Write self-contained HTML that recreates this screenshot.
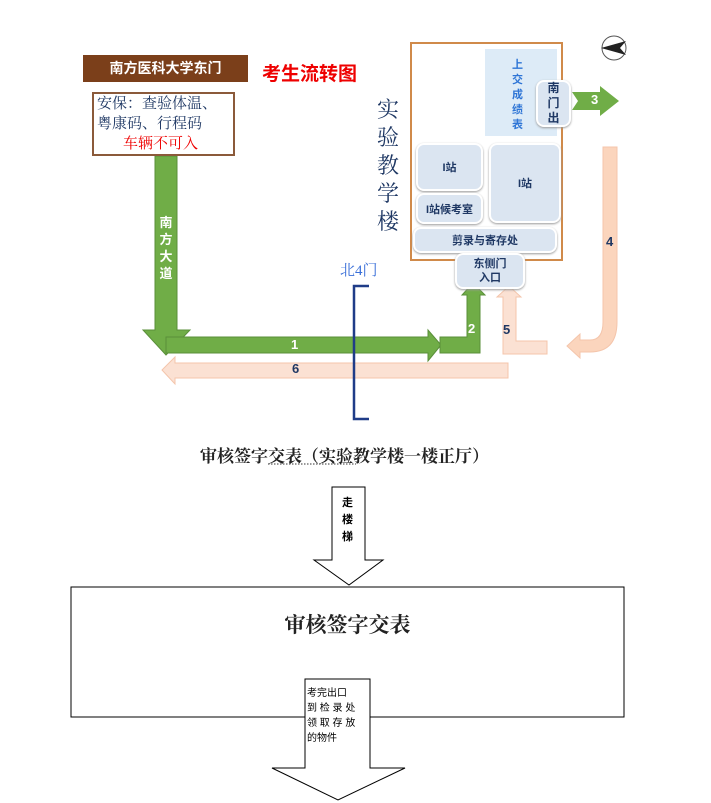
<!DOCTYPE html>
<html><head><meta charset="utf-8"><style>
body{margin:0;width:711px;height:803px;background:#fff;position:relative;overflow:hidden;font-family:"Liberation Sans","Noto Sans CJK SC",sans-serif}
.a{position:absolute}
.rb{background:#dbe5f1;border:2px solid #fff;border-radius:8px;box-shadow:0 1px 2px #999;color:#1f3864;font-weight:bold;font-size:11px;display:flex;align-items:center;justify-content:center;text-align:center;box-sizing:border-box}
</style></head><body>
<svg class="a" style="left:0;top:0" width="711" height="803">
<polygon points="155,156 177,156 177,330 190,330 166,355 143,330 155,330" fill="#70ad47" stroke="#5a8f3a"/>
<polygon points="166,337 428,337 428,330 441,345 428,361 428,353 166,353" fill="#70ad47" stroke="#5a8f3a"/>
<polygon points="440,337 467,337 467,295 462,295 473,283 485,295 480,295 480,353 440,353" fill="#70ad47" stroke="#5a8f3a"/>
<polygon points="572,92 600,92 600,86 619,101 600,116 600,110 572,110 578,101" fill="#70ad47"/>
<polygon points="503,354 503,297 497,297 509,286 521,297 516,297 516,341 547,341 547,354" fill="#fbe1d3" stroke="#f4c5ab"/>
<polygon points="508,363 508,378 175,378 175,384 162,370 175,357 175,363" fill="#fbe1d3" stroke="#f4c5ab"/>
<path d="M603,147 L617,147 L617,322 Q617,352 590,352 L580,352 L580,358 L567,346 L580,334 L580,340 L590,340 Q603,340 603,322 Z" fill="#fbd5bd" stroke="#f4c5ab"/>
<polyline points="369,286 354,286 354,419 369,419" fill="none" stroke="#1f3c88" stroke-width="2.5"/>
<rect x="411" y="43" width="151" height="217" fill="#fff" stroke="#d08a4a" stroke-width="2"/>
<rect x="485" y="49" width="72" height="87" fill="#ddebf7"/>
<circle cx="614" cy="48" r="12" fill="#fff" stroke="#555"/>
<polygon points="601,48 626,41 620,48 626,55" fill="#222"/>
<line x1="268" y1="464" x2="356" y2="464" stroke="#333" stroke-dasharray="1.5,1.5"/>
<polygon points="332,487 365,487 365,560 383,560 349,585 314,560 332,560" fill="#fff" stroke="#000"/>
<rect x="71" y="587" width="553" height="130" fill="#fff" stroke="#000"/>
<polygon points="305,679 370,679 370,768 405,768 338,800 272,768 305,768" fill="#fff" stroke="#000"/>
</svg>
<div class="a" style="left:83px;top:55px;width:165px;height:27px;background:#7b3f1a;color:#fff;font-weight:bold;font-size:14px;line-height:27px;text-align:center">南方医科大学东门</div>
<div class="a" style="left:262px;top:59px;color:#e00;font-weight:bold;font-size:19px">考生流转图</div>
<div class="a" style="left:92px;top:92px;width:143px;height:64px;border:2px solid #8b5a3a;box-sizing:border-box;font-family:'Liberation Serif','Noto Serif CJK SC',serif;font-size:15px;line-height:20px;color:#1f3864;padding:0 3px;white-space:nowrap">安保：查验体温、<br>粤康码、行程码<br><span style="color:#e00;padding-left:26px">车辆不可入</span></div>
<div class="a" style="left:157px;top:214px;width:18px;color:#fff;font-weight:bold;font-size:13px;line-height:17px;text-align:center">南方大道</div>
<div class="a" style="left:291px;top:337px;color:#fff;font-weight:bold;font-size:13px">1</div>
<div class="a" style="left:468px;top:321px;color:#fff;font-weight:bold;font-size:13px">2</div>
<div class="a" style="left:591px;top:92px;color:#fff;font-weight:bold;font-size:13px">3</div>
<div class="a" style="left:606px;top:234px;color:#1f3864;font-weight:bold;font-size:13px">4</div>
<div class="a" style="left:503px;top:322px;color:#1f3864;font-weight:bold;font-size:13px">5</div>
<div class="a" style="left:292px;top:361px;color:#1f3864;font-weight:bold;font-size:13px">6</div>
<div class="a" style="left:340px;top:259px;color:#3a6fd8;font-size:15px;font-family:'Liberation Serif','Noto Serif CJK SC',serif">北4门</div>
<div class="a" style="left:377px;top:96px;width:24px;color:#1f3864;font-size:22px;line-height:28px;font-family:'Liberation Serif','Noto Serif CJK SC',serif">实验教学楼</div>
<div class="a" style="left:512px;top:58px;width:14px;color:#2e75d6;font-weight:bold;font-size:11px;line-height:15px">上交成绩表</div>
<div class="a rb" style="left:536px;top:80px;width:35px;height:47px;font-size:12px;line-height:15px">南<br>门<br>出</div>
<div class="a rb" style="left:416px;top:143px;width:67px;height:48px">I站</div>
<div class="a rb" style="left:489px;top:143px;width:72px;height:80px">I站</div>
<div class="a rb" style="left:416px;top:193px;width:67px;height:31px">I站候考室</div>
<div class="a rb" style="left:413px;top:227px;width:144px;height:26px">剪录与寄存处</div>
<div class="a rb" style="left:455px;top:253px;width:70px;height:36px;line-height:14px">东侧门<br>入口</div>
<div class="a" style="left:200px;top:442px;font-size:17px;font-weight:bold;font-family:'Liberation Serif','Noto Serif CJK SC',serif;color:#222;white-space:nowrap">审核签字交表（实验教学楼一楼正厅）</div>
<div class="a" style="left:342px;top:495px;width:14px;font-size:11px;font-weight:bold;line-height:17px">走楼梯</div>
<div class="a" style="left:71px;top:609px;width:553px;text-align:center;font-size:21px;font-weight:bold;font-family:'Liberation Serif','Noto Serif CJK SC',serif;color:#222">审核签字交表</div>
<div class="a" style="left:307px;top:686px;width:62px;font-size:10px;line-height:15px;white-space:nowrap">考完出口<br>到&nbsp;检&nbsp;录&nbsp;处<br>领&nbsp;取&nbsp;存&nbsp;放<br>的物件</div>
</body></html>
